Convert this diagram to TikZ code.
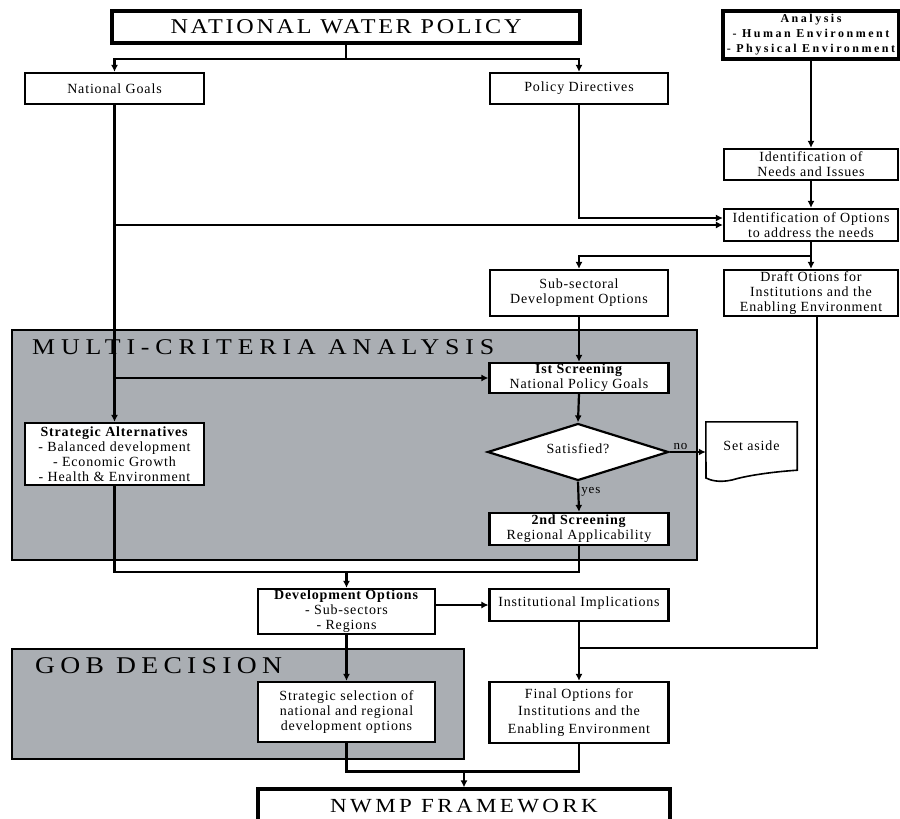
\documentclass[tikz,border=0pt]{standalone}
\usepackage{fontspec}
\setmainfont{Liberation Serif}[LetterSpace=6]
\newfontfamily\titlefont{Liberation Serif}[FakeStretch=1.15]
\newfontfamily\widefont{Liberation Serif}[LetterSpace=21]
\usetikzlibrary{arrows.meta,shapes.geometric}
\definecolor{panelgray}{RGB}{170,174,179}
\tikzstyle{box}=[draw, line width=2.2pt, fill=white, inner sep=0pt, align=center, font=\fontsize{14}{15}\selectfont]
\tikzstyle{bigbox}=[box, line width=3.2pt]
\tikzstyle{panel}=[draw, line width=2pt, fill=panelgray]
\tikzstyle{link}=[line width=2.2pt]
\tikzstyle{thinlink}=[line width=1.1pt]
\tikzset{arr/.style={-{Latex[length=7pt,width=7pt]}}}

\begin{document}
\begin{tikzpicture}[x=1pt,y=-1pt]
    \useasboundingbox (0,0) rectangle (900,819);
    \draw[panel] (12,330) rectangle (697,560);
    \draw[panel] (12,649) rectangle (464,759);
    \node[anchor=base west, inner sep=0pt, font=\titlefont\addfontfeatures{LetterSpace=26}\fontsize{22.5}{24}\selectfont] (mcatitle) at (32,354) {MULTI-CRITERIA ANALYSIS};
    \node[anchor=base west, inner sep=0pt, font=\titlefont\addfontfeatures{LetterSpace=22}\fontsize{24}{26}\selectfont] (gobtitle) at (35,673) {GOB DECISION};

    \node[bigbox, minimum width=468pt, minimum height=32pt] (nwp) at (346,27) {\titlefont\addfontfeatures{LetterSpace=13}\fontsize{21}{24}\selectfont NATIONAL WATER POLICY};
    \node[box, minimum width=179pt, minimum height=31pt] (goals) at (114.5,88.5) {National Goals};
    \node[box, minimum width=178pt, minimum height=31pt] (directives) at (579,88.5) {Policy Directives};
    \node[bigbox, minimum width=176pt, minimum height=48pt, font=\widefont\bfseries\fontsize{12}{15}\selectfont] (analysis) at (811,35) {Analysis\\- Human Environment\\- Physical Environment};
    \node[box, minimum width=174pt, minimum height=31pt] (needs) at (811,164.5) {Identification of\\Needs and Issues};
    \node[box, minimum width=174pt, minimum height=32pt] (idopt) at (811,225) {Identification of Options\\to address the needs};
    \node[box, minimum width=178pt, minimum height=46pt] (subsec) at (579,293) {Sub-sectoral\\Development Options};
    \node[box, minimum width=174pt, minimum height=46pt] (draft) at (811,293) {Draft Otions for\\Institutions and the\\Enabling Environment};
    \node[box, minimum width=179pt, minimum height=30pt] (first) at (579,378) {\textbf{Ist Screening}\\National Policy Goals};
    \node[box, minimum width=179pt, minimum height=62pt] (strat) at (114.5,454) {\textbf{Strategic Alternatives}\\- Balanced development\\- Economic Growth\\- Health \& Environment};
    \node[box, diamond, aspect=3.2, minimum width=181pt, minimum height=57pt] (sat) at (578,452) {\raisebox{6pt}{Satisfied?}};
    \node[inner sep=0pt, minimum width=91pt, minimum height=48pt, font=\fontsize{14}{15}\selectfont] (aside) at (751.5,446) {Set aside};
    \node[box, minimum width=179pt, minimum height=32pt] (second) at (579,529) {\textbf{2nd Screening}\\Regional Applicability};
    \node[box, minimum width=177pt, minimum height=45pt] (devopt) at (346.5,611.5) {\textbf{Development Options}\\- Sub-sectors\\- Regions};
    \node[box, minimum width=179pt, minimum height=32pt] (inst) at (579,605) {\raisebox{7pt}{Institutional Implications}};
    \node[box, minimum width=177pt, minimum height=60pt] (sel) at (346.5,712) {Strategic selection of\\national and regional\\development options};
    \node[box, minimum width=179pt, minimum height=61pt, font=\fontsize{14}{17.5}\selectfont] (final) at (579,712.5) {Final Options for\\Institutions and the\\Enabling Environment};
    \node[bigbox, minimum width=412pt, minimum height=34pt] (nwmp) at (464,806) {\titlefont\addfontfeatures{LetterSpace=17}\fontsize{20}{22}\selectfont NWMP FRAMEWORK};

    \draw[line width=1.6pt, fill=white] (aside.north west) -- (aside.north east) -- (aside.south east)
      .. controls (770,472) and (745,476) .. (732,480) .. controls (718,483) and (710,480) .. (706,478) -- cycle;
    \node[inner sep=0pt, font=\fontsize{14}{15}\selectfont] at (aside) {Set aside};

    \path (nwp.south) ++(0,14) coordinate (split);
    \draw[thinlink] (nwp.south) -- (split);
    \draw[link,arr] (split) -| (goals.north);
    \draw[link,arr] (split) -| (directives.north);
    \draw[link,arr] (analysis.south) -- (needs.north);
    \draw[link,arr] (needs.south) -- (idopt.north);
    \draw[link,arr] (directives.south) |- ([yshift=7pt]idopt.west);
    \draw[thinlink,arr] (goals.south |- idopt.west) -- (idopt.west);
    \draw[link,arr] (goals.south) -- (strat.north);
    \draw[link,arr] (goals.south |- first.west) -- (first.west);

    \path (idopt.south) ++(0,14) coordinate (fork);
    \draw[link,arr] (idopt.south) -- (draft.north);
    \draw[link,arr] (fork) -| (subsec.north);
    \draw[link,arr] (subsec.south) -- (first.north);
    \draw[link,arr] (first.south) -- (sat.north);
    \draw[link,arr] (sat.east) -- (sat.east -| aside.west) node[pos=0.3, above, inner sep=1pt, font=\fontsize{13}{14}\selectfont]{no};
    \draw[link,arr] (sat.south) -- (second.north) node[pos=0.33, right, inner sep=2pt, font=\fontsize{13}{14}\selectfont]{yes};

    \path (devopt.north) ++(0,-16) coordinate (merge);
    \draw[link] (strat.south) |- (merge) -| (second.south);
    \draw[link,arr] (merge) -- (devopt.north);
    \draw[thinlink,arr] (devopt.east |- inst.west) -- (inst.west);
    \draw[link,arr] (devopt.south) -- (sel.north);

    \path (final.north) ++(0,-33) coordinate (join);
    \draw[link] ([xshift=6pt]draft.south) |- (join);
    \draw[link,arr] (inst.south) -- (final.north);
    \path (nwmp.north) ++(0,-16) coordinate (collect);
    \draw[link] (sel.south) |- (collect) -| (final.south);
    \draw[link,arr] (collect) -- (nwmp.north);
  \end{tikzpicture}
\end{document}
